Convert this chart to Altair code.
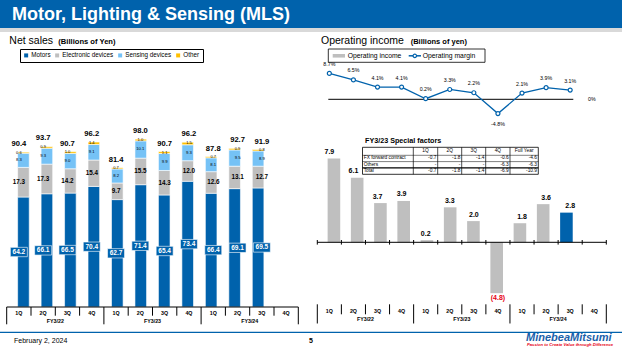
import altair as alt
import pandas as pd

# ---------------- data ----------------
quarters = ["1Q", "2Q", "3Q", "4Q"] * 3
fiscal_years = ["FY3/22", "FY3/23", "FY3/24"]
segments = ["Motors", "Electronic devices", "Sensing devices", "Other"]
motors = [64.2, 66.1, 66.5, 70.4, 62.7, 71.4, 65.4, 73.4, 66.4, 69.1, 69.5]
electronic = [17.3, 17.3, 14.2, 15.4, 9.7, 15.5, 14.3, 12.0, 12.6, 13.1, 12.7]
sensing = [8.3, 9.3, 9.0, 9.1, 8.2, 10.1, 9.9, 9.3, 8.1, 9.5, 8.9]
other = [0.6, 0.9, 1.0, 1.4, 0.7, 1.0, 1.1, 1.5, 0.7, 0.9, 0.8]
totals = [90.4, 93.7, 90.7, 96.2, 81.4, 98.0, 90.7, 96.2, 87.8, 92.7, 91.9]
op_income = [7.9, 6.1, 3.7, 3.9, 0.2, 3.3, 2.0, -4.8, 1.8, 3.6, 2.8]
op_margin = [8.7, 6.5, 4.1, 4.1, 0.2, 3.3, 2.2, -4.8, 2.1, 3.9, 3.1]
right_legend = ["Operating income", "Operating margin"]
table_title = "FY3/23 Special factors"
table_cols = ["1Q", "2Q", "3Q", "4Q", "Full Year"]
table_rows = ["FX forward contract", "Others", "Total"]
sf_fx = ["-0.7", "-1.8", "-1.4", "-0.6", "-4.6"]
sf_others = ["-", "-", "-", "-6.3", "-6.3"]
sf_total = ["-0.7", "-1.8", "-1.4", "-6.9", "-10.9"]

# ---------------- style ----------------
FONT = "Liberation Sans"
BLUE = "#0062AC"
GRAY = "#BFBFBF"
seg_colors = [BLUE, GRAY, "#75C2F6", "#FFC000"]

LX = alt.Scale(domain=[0, 12], range=[6.7, 298.3], nice=False, zero=False)
LY = alt.Scale(domain=[0, 100], range=[307, 135.7], nice=False, zero=False)
RX = alt.Scale(domain=[0, 12], range=[317.3, 606.3], nice=False, zero=False)
MY = alt.Scale(domain=[-5, 9], range=[114.2, 72.5], nice=False, zero=False)
BY = alt.Scale(domain=[-5, 8], range=[295.3, 157.5], nice=False, zero=False)

one = pd.DataFrame({"a": [0]})
layers = []


def txt(text, x, y, size, color="black", weight="normal", align="left", style="normal"):
    return alt.Chart(pd.DataFrame({"t": [text]})).mark_text(
        font=FONT, fontSize=size, color=color, fontWeight=weight, align=align,
        baseline="middle", fontStyle=style
    ).encode(x=alt.value(x), y=alt.value(y), text="t:N")


def box(x1, x2, y1, y2, fill, stroke=None, sw=0):
    kw = dict(fill=fill, strokeWidth=sw)
    if stroke:
        kw["stroke"] = stroke
    return alt.Chart(one).mark_rect(**kw).encode(
        x=alt.value(x1), x2=alt.value(x2), y=alt.value(y1), y2=alt.value(y2))


# ---------------- header / footer ----------------
layers.append(box(0, 622, 0, 28, BLUE))
layers.append(box(0, 622, 28, 32, "#D9D9D9"))
layers.append(txt("Motor, Lighting & Sensing (MLS)", 12, 15, 18, "white", "bold"))
layers.append(alt.Chart(one).mark_rule(color=BLUE, strokeWidth=1.3).encode(
    x=alt.value(0), x2=alt.value(622), y=alt.value(332.3)))
layers.append(txt("February 2, 2024", 14, 340.5, 7))
layers.append(txt("5", 311, 340.5, 7, weight="bold", align="center"))
layers.append(txt("MinebeaMitsumi", 526, 337.5, 11, "#1B5FAA", "bold", style="italic"))
layers.append(txt("Passion to Create Value through Difference", 527, 345.3, 4.2, "#E60012", "bold", style="italic"))

# ---------------- section titles ----------------
layers.append(txt("Net sales", 9.3, 41, 10.5))
layers.append(txt("(Billions of Yen)", 58.3, 41.8, 7.6, weight="bold"))
layers.append(txt("Operating income", 321, 41, 10.5))
layers.append(txt("(Billions of yen)", 410.7, 41.8, 7.5, weight="bold"))

# ---------------- left: stacked net sales ----------------
rows = []
for i in range(len(motors)):
    base = 0.0
    for seg, vals in zip(segments, [motors, electronic, sensing, other]):
        v = vals[i]
        rows.append(dict(x=i + 0.5, seg=seg, y0=base, y1=base + v, mid=base + v / 2, label=f"{v:.1f}"))
        base += v
stack_df = pd.DataFrame(rows)
tot_df = pd.DataFrame({"x": [i + 0.5 for i in range(len(totals))], "total": totals,
                       "label": [f"{t:.1f}" for t in totals]})

xl = alt.X("x:Q", scale=LX, axis=None)
layers.append(alt.Chart(stack_df).mark_bar(size=11.6, stroke="white", strokeWidth=0.6).encode(
    x=xl, y=alt.Y("y0:Q", scale=LY, axis=None), y2="y1:Q",
    color=alt.Color("seg:N", scale=alt.Scale(domain=segments, range=seg_colors),
                    legend=alt.Legend(orient="none", legendX=20, legendY=49, direction="horizontal",
                                      columns=4, title=None, symbolType="square", symbolSize=16,
                                      symbolStrokeWidth=0, labelFont=FONT, labelFontSize=6.3,
                                      labelColor="black", labelOffset=2, columnPadding=3,
                                      strokeColor="black", padding=3))))
box_shape = "M-1,-0.55L1,-0.55L1,0.55L-1,0.55Z"
mot = alt.Chart(stack_df).transform_filter(alt.datum.seg == "Motors")
layers.append(mot.mark_point(shape=box_shape, size=289, filled=True, color=BLUE, opacity=1,
                             strokeWidth=0.6, stroke="white").encode(
    x=xl, y=alt.Y("mid:Q", scale=LY, axis=None)))
layers.append(mot.mark_text(font=FONT, fontSize=6.5, fontWeight="bold", color="white").encode(
    x=xl, y=alt.Y("mid:Q", scale=LY, axis=None), text="label:N"))
for seg, size, weight in [("Electronic devices", 6.3, "bold"), ("Sensing devices", 4.2, "normal"),
                          ("Other", 4.0, "normal")]:
    layers.append(alt.Chart(stack_df).transform_filter(alt.datum.seg == seg).mark_text(
        font=FONT, fontSize=size, fontWeight=weight, color="black").encode(
        x=xl, y=alt.Y("mid:Q", scale=LY, axis=None), text="label:N"))
layers.append(alt.Chart(tot_df).mark_text(font=FONT, fontSize=7.6, fontWeight="bold", color="black",
                                          dy=-8).encode(
    x=xl, y=alt.Y("total:Q", scale=LY, axis=None), text="label:N"))

bounds = pd.DataFrame({"b": list(range(13)), "major": [b % 4 == 0 for b in range(13)]})
span = pd.DataFrame({"a": [0], "b": [12], "zero": [0]})
slots = pd.DataFrame({"x": [i + 0.5 for i in range(12)], "q": quarters})
fy_df = pd.DataFrame({"x": [2, 6, 10], "fy": fiscal_years})

layers.append(alt.Chart(span).mark_rule(color="black", strokeWidth=1).encode(
    x=alt.X("a:Q", scale=LX, axis=None), x2="b:Q", y=alt.value(307)))
layers.append(alt.Chart(bounds).transform_filter("!datum.major").mark_rule(color="black", strokeWidth=1).encode(
    x=alt.X("b:Q", scale=LX, axis=None), y=alt.value(307), y2=alt.value(315.7)))
layers.append(alt.Chart(bounds).transform_filter("datum.major").mark_rule(color="black", strokeWidth=1).encode(
    x=alt.X("b:Q", scale=LX, axis=None), y=alt.value(307), y2=alt.value(324.3)))
layers.append(alt.Chart(slots).mark_text(font=FONT, fontSize=5.3, fontWeight="bold").encode(
    x=alt.X("x:Q", scale=LX, axis=None), y=alt.value(313.3), text="q:N"))
layers.append(alt.Chart(fy_df).mark_text(font=FONT, fontSize=5.3, fontWeight="bold").encode(
    x=alt.X("x:Q", scale=LX, axis=None), y=alt.value(321.3), text="fy:N"))

# ---------------- right top: operating margin line ----------------
mg_df = pd.DataFrame({"x": [i + 0.5 for i in range(len(op_margin))], "m": op_margin,
                      "label": [f"{m:.1f}%" for m in op_margin], "zero": 0})
xr = alt.X("x:Q", scale=RX, axis=None)
layers.append(alt.Chart(span).mark_rule(color="black", strokeWidth=1).encode(
    x=alt.value(328.3), x2=alt.value(573.3), y=alt.Y("zero:Q", scale=MY, axis=None)))
layers.append(txt("0%", 588, 99.3, 5.3))
layers.append(alt.Chart(mg_df).mark_line(color=BLUE, strokeWidth=1.3).encode(
    x=xr, y=alt.Y("m:Q", scale=MY, axis=None)))
layers.append(alt.Chart(mg_df).mark_point(filled=True, fill="white", stroke=BLUE, strokeWidth=1.2,
                                          size=16, opacity=1).encode(
    x=xr, y=alt.Y("m:Q", scale=MY, axis=None)))
layers.append(alt.Chart(mg_df).transform_filter("datum.m >= 0").mark_text(
    font=FONT, fontSize=5.3, dy=-9.5).encode(x=xr, y=alt.Y("m:Q", scale=MY, axis=None), text="label:N"))
layers.append(alt.Chart(mg_df).transform_filter("datum.m < 0").mark_text(
    font=FONT, fontSize=5.3, dy=10).encode(x=xr, y=alt.Y("m:Q", scale=MY, axis=None), text="label:N"))

# right legend
layers.append(box(328.3, 485, 49, 62.3, "white", "black", 0.8))
layers.append(box(332.7, 345, 54, 57.6, GRAY))
layers.append(txt(right_legend[0], 347.7, 55.8, 6.8))
layers.append(alt.Chart(one).mark_rule(color=BLUE, strokeWidth=1.5).encode(
    x=alt.value(408.7), x2=alt.value(421), y=alt.value(55.8)))
layers.append(alt.Chart(one).mark_point(filled=True, fill="white", stroke=BLUE, strokeWidth=1.2,
                                        size=12, opacity=1).encode(x=alt.value(414.8), y=alt.value(55.8)))
layers.append(txt(right_legend[1], 422.7, 55.8, 6.8))

# ---------------- right bottom: operating income bars ----------------
oi_df = pd.DataFrame({"x": [i + 0.5 for i in range(len(op_income))], "v": op_income, "zero": 0,
                      "hl": ["cur" if i == len(op_income) - 1 else "past" for i in range(len(op_income))],
                      "label": [f"{v:.1f}" if v >= 0 else f"({abs(v):.1f})" for v in op_income]})
layers.append(alt.Chart(oi_df).mark_bar(size=12.6).encode(
    x=xr, y=alt.Y("v:Q", scale=BY, axis=None), y2="zero:Q",
    color=alt.Color("hl:N", scale=alt.Scale(domain=["past", "cur"], range=[GRAY, BLUE]), legend=None)))
layers.append(alt.Chart(oi_df).transform_filter("datum.v >= 0").mark_text(
    font=FONT, fontSize=7, fontWeight="bold", dy=-6.5).encode(
    x=xr, y=alt.Y("v:Q", scale=BY, axis=None), text="label:N"))
layers.append(alt.Chart(oi_df).transform_filter("datum.v < 0").mark_text(
    font=FONT, fontSize=7, fontWeight="bold", color="#E60012", dy=5).encode(
    x=xr, y=alt.Y("v:Q", scale=BY, axis=None), text="label:N"))
layers.append(alt.Chart(span).mark_rule(color="black", strokeWidth=1).encode(
    x=alt.X("a:Q", scale=RX, axis=None), x2="b:Q", y=alt.Y("zero:Q", scale=BY, axis=None)))
layers.append(alt.Chart(bounds).mark_rule(color="black", strokeWidth=1).encode(
    x=alt.X("b:Q", scale=RX, axis=None), y=alt.value(240.0), y2=alt.value(244.6)))
layers.append(alt.Chart(bounds).transform_filter("!datum.major").mark_rule(color="black", strokeWidth=1).encode(
    x=alt.X("b:Q", scale=RX, axis=None), y=alt.value(304.3), y2=alt.value(314.3)))
layers.append(alt.Chart(bounds).transform_filter("datum.major").mark_rule(color="black", strokeWidth=1).encode(
    x=alt.X("b:Q", scale=RX, axis=None), y=alt.value(304.3), y2=alt.value(323.5)))
layers.append(alt.Chart(slots).mark_text(font=FONT, fontSize=5.3, fontWeight="bold").encode(
    x=alt.X("x:Q", scale=RX, axis=None), y=alt.value(310.6), text="q:N"))
layers.append(alt.Chart(fy_df).mark_text(font=FONT, fontSize=5.3, fontWeight="bold").encode(
    x=alt.X("x:Q", scale=RX, axis=None), y=alt.value(319.4), text="fy:N"))

# ---------------- special factors table ----------------
col_edges = [362.5, 413.3, 437.7, 461.7, 485.7, 510.0, 538.3]
row_edges = [147.3, 155.3, 161.6, 167.9, 174.3]
layers.append(txt(table_title, 365, 141, 7.2, weight="bold"))
layers.append(box(col_edges[0], col_edges[-1], row_edges[0], row_edges[-1], "white", "black", 0.8))
grid = []
for xe in col_edges[1:-1]:
    grid.append(dict(x1=xe, x2=xe, y1=row_edges[0], y2=row_edges[-1], w=0.7))
for k, ye in enumerate(row_edges[1:-1]):
    grid.append(dict(x1=col_edges[0], x2=col_edges[-1], y1=ye, y2=ye, w=1.2 if k == 2 else 0.5))
layers.append(alt.Chart(pd.DataFrame(grid)).mark_rule(color="black").encode(
    x=alt.X("x1:Q", scale=None), x2="x2:Q", y=alt.Y("y1:Q", scale=None), y2="y2:Q",
    strokeWidth=alt.StrokeWidth("w:Q", scale=None)))
cells_c, cells_l, cells_r = [], [], []
for j, c in enumerate(table_cols):
    cells_c.append(dict(px=(col_edges[j + 1] + col_edges[j + 2]) / 2, py=(row_edges[0] + row_edges[1]) / 2, t=c))
for r, (name, vals) in enumerate(zip(table_rows, [sf_fx, sf_others, sf_total])):
    py = (row_edges[r + 1] + row_edges[r + 2]) / 2
    cells_l.append(dict(px=col_edges[0] + 1.2, py=py, t=name))
    for j, v in enumerate(vals):
        cells_r.append(dict(px=col_edges[j + 2] - 1.3, py=py, t=v))
for cells, al in [(cells_c, "center"), (cells_l, "left"), (cells_r, "right")]:
    layers.append(alt.Chart(pd.DataFrame(cells)).mark_text(
        font=FONT, fontSize=4.8, align=al, baseline="middle", color="black").encode(
        x=alt.X("px:Q", scale=None), y=alt.Y("py:Q", scale=None), text="t:N"))

chart = alt.layer(*layers).resolve_scale(
    x="independent", y="independent", color="independent"
).properties(
    width=622, height=350, autosize=alt.AutoSizeParams(type="none"), padding=0, background="white"
).configure_view(stroke=None)

chart.save("out.html", embed_options={"renderer": "svg", "actions": False})
